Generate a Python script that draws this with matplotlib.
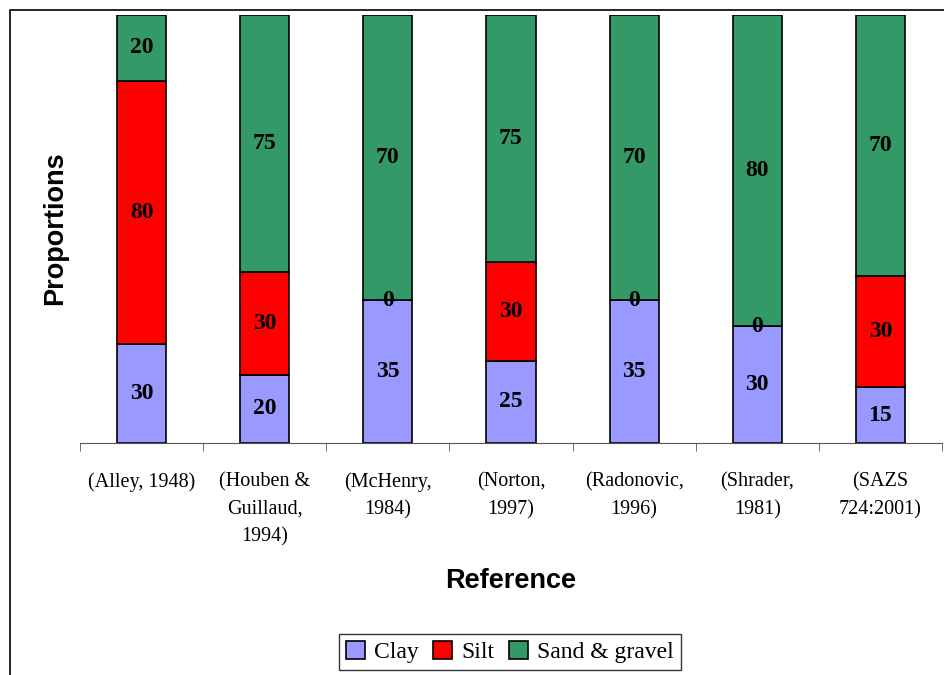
import numpy as np
import matplotlib.pyplot as plt
from matplotlib.patches import Rectangle

refs = ["(Alley, 1948)", "(Houben &\nGuillaud,\n1994)", "(McHenry,\n1984)",
        "(Norton,\n1997)", "(Radonovic,\n1996)", "(Shrader,\n1981)", "(SAZS\n724:2001)"]
clay = [30, 20, 35, 25, 35, 30, 15]
silt = [80, 30, 0, 30, 0, 0, 30]
sand = [20, 75, 70, 75, 70, 80, 70]
names = ["Clay", "Silt", "Sand & gravel"]
colors = ["#9999ff", "#ff0000", "#339966"]

serif = ["Liberation Serif", "DejaVu Serif"]

fig = plt.figure(figsize=(9.44, 6.75), dpi=100)
fig.patches.append(Rectangle((10 / 944, -0.1), 1.2, 1 - 10 / 675 + 0.1,
                             transform=fig.transFigure, fill=False,
                             edgecolor="black", lw=1.2))
ax = fig.add_axes([80 / 944, 1 - 443 / 675, 862 / 944, (443 - 15) / 675])

data = np.array([clay, silt, sand], dtype=float)
props = data / data.sum(axis=0)
x = np.arange(len(refs))
bottom = np.zeros(len(refs))
for i in range(3):
    ax.bar(x, props[i], 0.4, bottom=bottom, color=colors[i],
           edgecolor="black", lw=1.2, label=names[i])
    for j in range(len(refs)):
        ax.text(x[j], bottom[j] + props[i][j] / 2, str(int(data[i][j])),
                ha="center", va="center", fontsize=17, fontweight="bold",
                family=serif)
    bottom += props[i]

ax.set_xlim(-0.5, len(refs) - 0.5)
ax.set_ylim(0, 1)
for s in ["left", "right", "top"]:
    ax.spines[s].set_visible(False)
ax.spines["bottom"].set_color("#555555")
ax.set_yticks([])
ax.set_xticks(x)
ax.set_xticklabels(refs, fontsize=14.5, family=serif, linespacing=1.6, va="top")
ax.tick_params(axis="x", which="major", length=0, pad=21)
ax.set_xticks(np.arange(len(refs) + 1) - 0.5, minor=True)
ax.tick_params(axis="x", which="minor", length=6, color="#555555")

fig.text(55 / 944, 1 - 228 / 675, "Proportions", rotation=90, ha="center",
         va="center", fontsize=19.5, fontweight="bold", family="Liberation Sans")
fig.text(511 / 944, 1 - 581 / 675, "Reference", ha="center", va="center",
         fontsize=19.5, fontweight="bold", family="Liberation Sans")

leg = fig.legend(loc="center", bbox_to_anchor=(510 / 944, 1 - 652 / 675), ncol=3,
                 prop={"family": serif, "size": 17}, frameon=True, fancybox=False,
                 edgecolor="black", handlelength=0.8, handleheight=0.8,
                 handletextpad=0.4, columnspacing=0.6, borderpad=0.3)
leg.get_frame().set_linewidth(1.0)

fig.savefig("out.png", dpi=100)
